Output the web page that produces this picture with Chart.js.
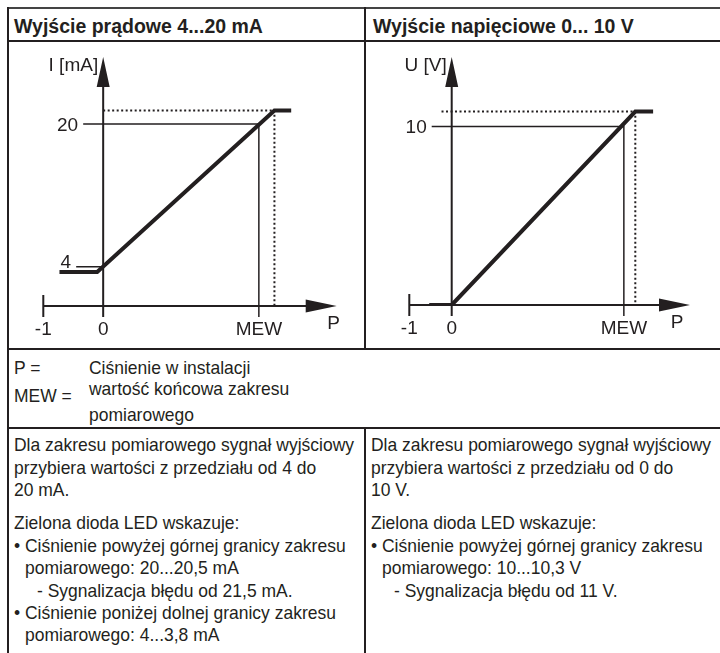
<!DOCTYPE html>
<html>
<head>
<meta charset="utf-8">
<script src="https://cdn.jsdelivr.net/npm/chart.js@4.4.1/dist/chart.umd.min.js"></script>
<style>
body{margin:0;background:#fff;}
#page{position:relative;width:720px;height:653px;overflow:hidden;font-family:"Liberation Sans",Arial,sans-serif;color:#231f20;}
.ln{position:absolute;background:#231f20;}
.hd{position:absolute;font-weight:bold;font-size:19.5px;line-height:22px;white-space:nowrap;}
.t{position:absolute;font-size:19px;line-height:22.4px;white-space:nowrap;transform:scaleX(0.92);transform-origin:0 0;}
canvas{position:absolute;}
</style>
</head>
<body>
<div id="page">
  <!-- ramki tabeli -->
  <div class="ln" style="left:7px;top:7px;width:713px;height:2px;background:#444"></div>
  <div class="ln" style="left:7px;top:39.5px;width:713px;height:2px"></div>
  <div class="ln" style="left:7px;top:7px;width:2px;height:646px"></div>
  <div class="ln" style="left:363.5px;top:7px;width:2px;height:342px"></div>
  <div class="ln" style="left:7px;top:348px;width:713px;height:1.5px"></div>
  <div class="ln" style="left:7px;top:426.5px;width:713px;height:2px"></div>
  <div class="ln" style="left:363.5px;top:427px;width:2px;height:226px"></div>

  <div class="hd" style="left:14px;top:14.5px">Wyjście prądowe 4...20 mA</div>
  <div class="hd" style="left:373px;top:14.5px">Wyjście napięciowe 0... 10 V</div>

  <canvas id="chartCurrent" width="354" height="306" style="left:9px;top:42px"></canvas>
  <canvas id="chartVoltage" width="354" height="306" style="left:366px;top:42px"></canvas>

  <!-- legenda -->
  <div class="t" style="left:14px;top:356.5px">P =</div>
  <div class="t" style="left:89px;top:356.5px">Ciśnienie w instalacji</div>
  <div class="t" style="left:14px;top:385px">MEW =</div>
  <div class="t" style="left:89px;top:376px;line-height:26px">wartość końcowa zakresu<br>pomiarowego</div>

  <!-- opisy -->
  <div class="t" style="left:14px;top:434.3px">Dla zakresu pomiarowego sygnał wyjściowy<br>przybiera wartości z przedziału od 4 do<br>20 mA.</div>
  <div class="t" style="left:14px;top:512.3px">Zielona dioda LED wskazuje:<br>• Ciśnienie powyżej górnej granicy zakresu<br><span style="padding-left:12px">pomiarowego: 20...20,5 mA</span><br><span style="padding-left:25px">- Sygnalizacja błędu od 21,5 mA.</span><br>• Ciśnienie poniżej dolnej granicy zakresu<br><span style="padding-left:12px">pomiarowego: 4...3,8 mA</span></div>

  <div class="t" style="left:371px;top:434.3px">Dla zakresu pomiarowego sygnał wyjściowy<br>przybiera wartości z przedziału od 0 do<br>10 V.</div>
  <div class="t" style="left:371px;top:512.3px">Zielona dioda LED wskazuje:<br>• Ciśnienie powyżej górnej granicy zakresu<br><span style="padding-left:12px">pomiarowego: 10...10,3 V</span><br><span style="padding-left:25px">- Sygnalizacja błędu od 11 V.</span></div>
</div>

<script>
const INK = "#231f20";

// wyjście prądowe: P -> I [mA]
const currentX = [-0.73, -0.1, 2.86, 3.14];
const currentY = [3.4, 3.4, 21.5, 21.5];
const currentMew = 2.6;
const currentTicks = [4, 20];
const currentTickLabels = ["4", "20"];

// wyjście napięciowe: P -> U [V]
const voltageX = [-0.53, 0, 4.33, 4.75];
const voltageY = [0, 0, 10.84, 10.84];
const voltageMew = 4.06;
const voltageTicks = [10];
const voltageTickLabels = ["10"];

// opisy osi P
const pTickLabels = ["-1", "0", "MEW"];

//rysuje osie ze strzalkami i podpisy
const axesPlugin = {
    id: "axes",
    beforeDatasetsDraw(chart, args, opts){
        const ctx = chart.ctx;
        const a = chart.chartArea;
        const xs = chart.scales.x;
        const ys = chart.scales.y;
        const x0 = xs.getPixelForValue(0);
        const xm1 = xs.getPixelForValue(-1);
        const xmew = xs.getPixelForValue(opts.mew);
        const yb = a.bottom;
        ctx.save();
        ctx.strokeStyle = INK;
        ctx.lineWidth = 2;
        ctx.beginPath();
        ctx.moveTo(a.left, yb);
        ctx.lineTo(a.right - 20, yb);
        ctx.moveTo(x0, yb + 11);
        ctx.lineTo(x0, a.top + 20);
        ctx.moveTo(xm1, yb - 11);
        ctx.lineTo(xm1, yb + 11);
        ctx.stroke();
        ctx.lineWidth = 1.5;
        ctx.beginPath();
        ctx.moveTo(xmew, yb);
        ctx.lineTo(xmew, yb + 11);
        opts.ticks.forEach((v, i) => {
            const y = ys.getPixelForValue(v);
            ctx.moveTo(x0 - opts.tickLen[i], y);
            ctx.lineTo(x0, y);
        });
        ctx.stroke();
        ctx.restore();
    },
    afterDatasetsDraw(chart, args, opts){
        const ctx = chart.ctx;
        const a = chart.chartArea;
        const xs = chart.scales.x;
        const ys = chart.scales.y;
        const x0 = xs.getPixelForValue(0);
        const yb = a.bottom;
        ctx.save();
        ctx.fillStyle = INK;
        ctx.beginPath();
        ctx.moveTo(a.right, yb);
        ctx.lineTo(a.right - 31, yb - 6.5);
        ctx.lineTo(a.right - 31, yb + 6.5);
        ctx.closePath();
        ctx.moveTo(x0, a.top);
        ctx.lineTo(x0 - 6.5, a.top + 30);
        ctx.lineTo(x0 + 6.5, a.top + 30);
        ctx.closePath();
        ctx.fill();

        ctx.font = '19px "Liberation Sans", Arial, sans-serif';
        ctx.textAlign = "right";
        ctx.fillText(opts.yTitle, x0 - 5, a.top + 14);
        opts.ticks.forEach((v, i) => {
            ctx.fillText(opts.tickLabels[i], x0 - opts.tickLen[i] - 5, ys.getPixelForValue(v) + opts.labelShift[i]);
        });
        ctx.textAlign = "center";
        [-1, 0, opts.mew].forEach((v, i) => {
            ctx.fillText(pTickLabels[i], xs.getPixelForValue(v), yb + 29);
        });
        ctx.fillText("P", a.right + opts.pShift, yb + 23);
        ctx.restore();
    }
};

function points(xArr, yArr){
    return xArr.map((x, i) => ({x: x, y: yArr[i]}));
}

function makeChart(id, cfg){
    const topX = cfg.x[2];
    const topY = cfg.y[2];
    new Chart(document.getElementById(id), {
        type: "scatter",
        data: {
            datasets: [{
                data: points(cfg.x, cfg.y),
                borderColor: INK,
                borderWidth: 4,
                borderCapStyle: "butt"
            }, {
                data: [{x: 0, y: cfg.full}, {x: cfg.mew, y: cfg.full}, {x: cfg.mew, y: cfg.yMin}],
                borderColor: INK,
                borderWidth: 1.5
            }, {
                data: [{x: cfg.dotStart, y: topY}, {x: topX, y: topY}, {x: topX, y: cfg.yMin}],
                borderColor: INK,
                borderWidth: 2,
                borderDash: [2, 2.5]
            }]
        },
        options: {
            responsive: false,
            animation: false,
            devicePixelRatio: 1,
            showLine: true,
            elements: {point: {radius: 0, hoverRadius: 0}, line: {tension: 0}},
            layout: {padding: cfg.padding},
            scales: {
                x: {type: "linear", display: false, min: -1, max: cfg.xMax},
                y: {type: "linear", display: false, min: cfg.yMin, max: cfg.yMax}
            },
            plugins: {
                legend: {display: false},
                tooltip: {enabled: false},
                axes: {
                    mew: cfg.mew,
                    ticks: cfg.ticks,
                    tickLabels: cfg.tickLabels,
                    tickLen: cfg.tickLen,
                    labelShift: cfg.labelShift,
                    yTitle: cfg.yTitle,
                    pShift: cfg.pShift
                }
            }
        },
        plugins: [axesPlugin]
    });
}

makeChart("chartCurrent", {
    x: currentX, y: currentY, mew: currentMew, full: 20, dotStart: 0,
    ticks: currentTicks, tickLabels: currentTickLabels,
    tickLen: [27, 20], labelShift: [1.5, 7],
    yTitle: "I [mA]", pShift: -3,
    xMax: 3.9, yMin: -0.4, yMax: 27.5,
    padding: {left: 34.3, right: 26.3, top: 15, bottom: 42}
});

makeChart("chartVoltage", {
    x: voltageX, y: voltageY, mew: voltageMew, full: 10, dotStart: -0.24,
    ticks: voltageTicks, tickLabels: voltageTickLabels,
    tickLen: [20], labelShift: [6],
    yTitle: "U [V]", pShift: -13,
    xMax: 5.62, yMin: 0, yMax: 13.9,
    padding: {left: 43.3, right: 30, top: 15, bottom: 43}
});
</script>
</body>
</html>
